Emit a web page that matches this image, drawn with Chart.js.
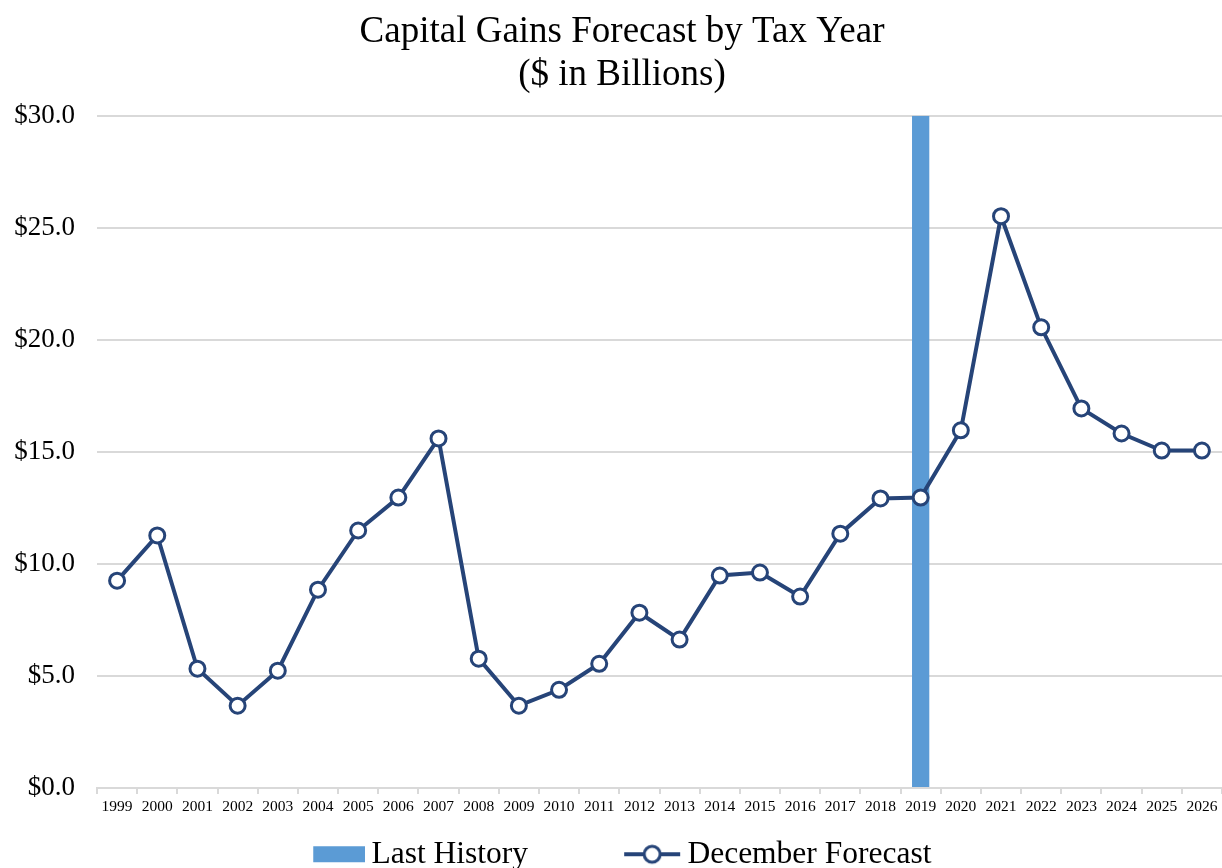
<!DOCTYPE html>
<html>
<head>
<meta charset="utf-8">
<script src="https://cdn.jsdelivr.net/npm/chart.js@4"></script>
<style>
  html, body { margin: 0; padding: 0; background: #fff; }
  #wrap { width: 1222px; height: 868px; }
</style>
</head>
<body>
<div id="wrap"><canvas id="c" width="1222" height="868"></canvas></div>
<script>
const years = ['1999','2000','2001','2002','2003','2004','2005','2006','2007','2008','2009','2010','2011','2012','2013','2014','2015','2016','2017','2018','2019','2020','2021','2022','2023','2024','2025','2026'];
const decemberForecast = [9.25, 11.27, 5.32, 3.67, 5.23, 8.85, 11.49, 12.96, 15.6, 5.77, 3.67, 4.38, 5.54, 7.82, 6.62, 9.48, 9.61, 8.54, 11.35, 12.92, 12.96, 15.96, 25.52, 20.56, 16.94, 15.82, 15.06, 15.06];
const lastHistoryYear = '2019';
const lastHistoryValue = 30;
const lastHistory = years.map(y => y === lastHistoryYear ? lastHistoryValue : null);
const yTicks = [0, 5, 10, 15, 20, 25, 30];

const SERIF = '"Liberation Serif", "Times New Roman", Times, serif';
const BAR_COLOR = '#5B9BD5';
const LINE_COLOR = '#264478';

// legend swatches
function makeBarSwatch() {
  const c = document.createElement('canvas');
  c.width = 58; c.height = 18;
  const x = c.getContext('2d');
  x.fillStyle = BAR_COLOR;
  x.fillRect(6, 1, 52, 16);
  return c;
}
function makeLineSwatch() {
  const c = document.createElement('canvas');
  c.width = 58; c.height = 24;
  const x = c.getContext('2d');
  x.strokeStyle = LINE_COLOR;
  x.lineWidth = 4;
  x.beginPath(); x.moveTo(1, 12); x.lineTo(57, 12); x.stroke();
  x.beginPath(); x.arc(29, 12, 8, 0, Math.PI * 2);
  x.fillStyle = '#fff'; x.fill();
  x.lineWidth = 3; x.stroke();
  return c;
}
const barSwatch = makeBarSwatch();
const lineSwatch = makeLineSwatch();
const NB = '\u00a0';

new Chart(document.getElementById('c'), {
  type: 'bar',
  data: {
    labels: years,
    datasets: [
      {
        type: 'bar',
        label: 'Last History',
        data: lastHistory,
        backgroundColor: BAR_COLOR,
        borderWidth: 0,
        barPercentage: 0.43,
        categoryPercentage: 1.0,
        order: 2
      },
      {
        type: 'line',
        label: 'December Forecast',
        data: decemberForecast,
        borderColor: LINE_COLOR,
        borderWidth: 4,
        pointRadius: 7.5,
        pointHoverRadius: 7.5,
        pointBackgroundColor: '#fff',
        pointBorderColor: LINE_COLOR,
        pointBorderWidth: 3,
        tension: 0,
        clip: false,
        order: 1
      }
    ]
  },
  options: {
    responsive: false,
    animation: false,
    layout: { autoPadding: false, padding: { left: 0, right: -22, top: 0, bottom: -12 } },
    scales: {
      x: {
        offset: true,
        afterFit: s => { s.paddingLeft = 0; s.paddingRight = 0; },
        grid: { display: true, drawOnChartArea: false, drawTicks: true, tickLength: 6, color: '#d9d9d9', lineWidth: 2, offset: true },
        border: { display: true, color: '#d9d9d9', width: 2 },
        ticks: { color: '#000', font: { family: SERIF, size: 15.5 }, padding: 4, maxRotation: 0, autoSkip: false }
      },
      y: {
        min: 0,
        max: 30,
        afterFit: s => { s.width = 97; },
        afterBuildTicks: s => { s.ticks = yTicks.map(v => ({ value: v })); },
        grid: { color: '#d9d9d9', lineWidth: 2, drawTicks: false },
        border: { display: false },
        ticks: {
          color: '#000',
          padding: 22,
          font: { family: SERIF, size: 27 },
          callback: v => '$' + Number(v).toFixed(1)
        }
      }
    },
    plugins: {
      title: {
        display: true,
        text: ['Capital Gains Forecast by Tax Year', '($ in Billions)'],
        color: '#000',
        font: { family: SERIF, size: 37, weight: 'normal', lineHeight: 1.16 },
        padding: { top: 11, bottom: 19 }
      },
      legend: {
        display: true,
        position: 'bottom',
        fullSize: false,
        labels: {
          color: '#000',
          font: { family: SERIF, size: 31.5 },
          usePointStyle: true,
          pointStyleWidth: 39,
          padding: 18,
          sort: (a, b) => a.datasetIndex - b.datasetIndex,
          generateLabels: chart => chart.data.datasets.map((ds, i) => ({
            text: i === 0 ? ds.label + NB.repeat(11) : ds.label + NB.repeat(9),
            pointStyle: i === 0 ? barSwatch : lineSwatch,
            fillStyle: 'transparent',
            strokeStyle: 'transparent',
            lineWidth: 0,
            hidden: !chart.isDatasetVisible(i),
            datasetIndex: i,
            fontColor: '#000'
          }))
        }
      },
      tooltip: { enabled: false }
    }
  }
});
</script>
</body>
</html>
